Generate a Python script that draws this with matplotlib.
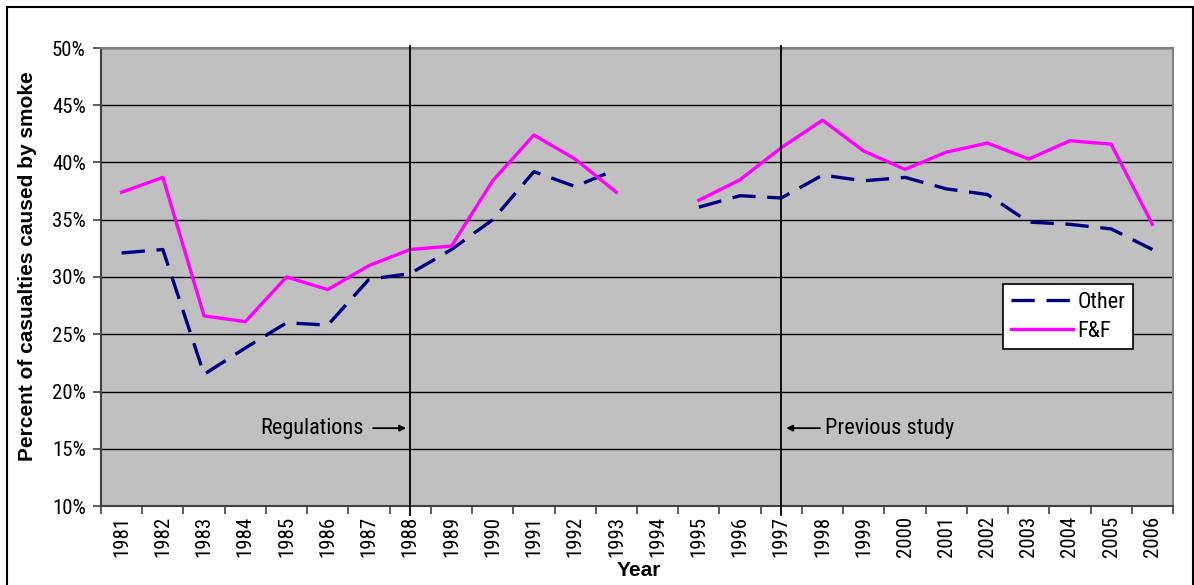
import numpy as np
import matplotlib
matplotlib.use("Agg")
import matplotlib.pyplot as plt
from matplotlib.patches import Rectangle

years = [str(y) for y in range(1981, 2007)]
other = [32.1, 32.4, 21.5, 23.8, 26.0, 25.8, 29.8, 30.3, 32.4, 35.0, 39.2, 37.9, 39.4,
         np.nan, 36.1, 37.1, 36.9, 38.9, 38.4, 38.7, 37.7, 37.2, 34.8, 34.6, 34.2, 32.4]
ff = [37.4, 38.7, 26.6, 26.1, 30.0, 28.9, 31.0, 32.4, 32.7, 38.4, 42.4, 40.3, 37.4,
      np.nan, 36.7, 38.5, 41.3, 43.7, 41.0, 39.4, 40.9, 41.7, 40.3, 41.9, 41.6, 34.6]
yticks = [10, 15, 20, 25, 30, 35, 40, 45, 50]
events = {"Regulations": "1988", "Previous study": "1997"}

NARROW = ['Roboto Condensed', 'Liberation Sans', 'DejaVu Sans']
BOLD = ['Liberation Sans', 'DejaVu Sans']

W, H = 1194, 585
fig = plt.figure(figsize=(W / 100, H / 100), dpi=100)
fig.patch.set_facecolor('white')

# outer chart border (bottom edge below the image)
fig.patches.append(Rectangle((7 / W, -0.05), (1193 - 7) / W, (H - 7) / H + 0.05,
                             transform=fig.transFigure, fill=False,
                             edgecolor='black', linewidth=1.5))

L, R, T, B = 101, 1173, 48, 506
ax = fig.add_axes([L / W, 1 - B / H, (R - L) / W, (B - T) / H])
ax.set_facecolor('#C0C0C0')

x = np.arange(len(years))
ax.plot(x, other, color='#000080', linewidth=2.4, dashes=(7, 3.5), label='Other',
        solid_capstyle='butt', dash_capstyle='butt')
ax.plot(x, ff, color='#FF00FF', linewidth=2.4, label='F&F')

ax.set_xlim(-0.5, len(years) - 0.5)
ax.set_ylim(yticks[0], yticks[-1])

ax.set_yticks(yticks)
ax.set_yticklabels([f"{v}%" for v in yticks], fontfamily=NARROW, fontsize=15)
ax.yaxis.grid(True, color='black', linewidth=1.0)
ax.set_axisbelow(True)

ax.set_xticks(x)
ax.set_xticklabels(years, rotation=90, fontfamily=NARROW, fontsize=15)
ax.set_xticks(np.arange(-0.5, len(years), 1.0), minor=True)
ax.tick_params(axis='x', which='major', length=0, pad=7)
ax.tick_params(axis='x', which='minor', length=6, width=1.2, color='#404040')
ax.tick_params(axis='y', which='major', length=6, width=1.2, color='#404040', pad=5)

for s in ['top', 'right']:
    ax.spines[s].set_color('#808080')
    ax.spines[s].set_linewidth(1.5)
for s in ['left', 'bottom']:
    ax.spines[s].set_color('#404040')
    ax.spines[s].set_linewidth(1.5)

# event lines
for label, yr in events.items():
    xi = years.index(yr)
    ax.plot([xi, xi], [50.15, 9.2], color='black', linewidth=1.3, clip_on=False, zorder=3)

yl = 16.8
xr = years.index(events["Regulations"])
ax.text(xr - 3.64, yl, "Regulations", fontfamily=NARROW, fontsize=16, va='center', ha='left')
ax.annotate("", xy=(xr - 0.1, yl), xytext=(xr - 0.9, yl),
            arrowprops=dict(arrowstyle='-|>', color='black', lw=1.3, mutation_scale=9,
                            shrinkA=0, shrinkB=0))
xp = years.index(events["Previous study"])
ax.text(xp + 1.06, yl, "Previous study", fontfamily=NARROW, fontsize=16, va='center', ha='left')
ax.annotate("", xy=(xp + 0.12, yl), xytext=(xp + 0.94, yl),
            arrowprops=dict(arrowstyle='-|>', color='black', lw=1.3, mutation_scale=9,
                            shrinkA=0, shrinkB=0))

# axis labels
fig.text(28 / W, 1 - 266 / H, "Percent of casualties caused by smoke", rotation=90,
         fontfamily=BOLD, fontweight='bold', fontsize=15, ha='center', va='center')
fig.text(639 / W, 1 - 570 / H, "Year", fontfamily=BOLD, fontweight='bold',
         fontsize=15, ha='center', va='center')

leg = ax.legend(loc='upper left', bbox_to_anchor=(1003 / W, 1 - 284 / H),
                bbox_transform=fig.transFigure, frameon=True, fancybox=False,
                edgecolor='black', facecolor='white', framealpha=1,
                prop={'family': NARROW, 'size': 16}, handlelength=2.8,
                handletextpad=0.2, borderpad=0.35, labelspacing=0.35,
                borderaxespad=0)
leg.get_frame().set_linewidth(1.2)

fig.savefig("out.png", dpi=100, facecolor='white')
